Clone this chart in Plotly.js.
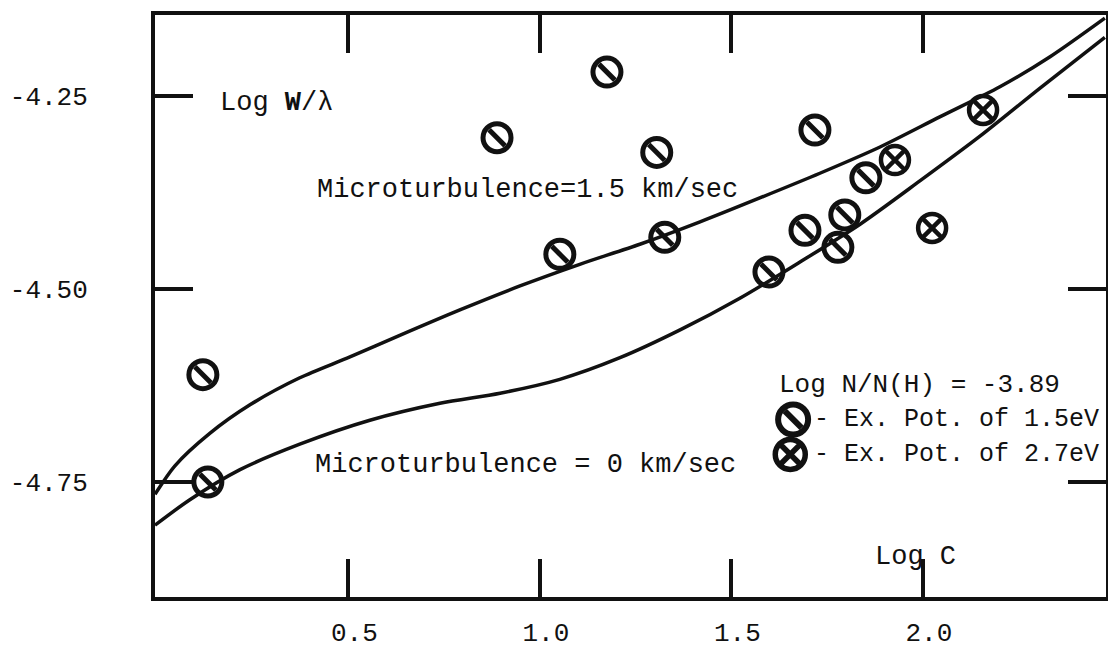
<!DOCTYPE html>
<html>
<head>
<meta charset="utf-8">
<script src="https://cdn.plot.ly/plotly-3.0.1.min.js"></script>
<style>
html,body{margin:0;padding:0;background:#fff;}
#chart{width:1108px;height:650px;}
</style>
</head>
<body>
<div id="chart"></div>
<script>
// Observed lines, excitation potential 1.5 eV (circle with slash)
const logC_ep15 = [0.120, 0.133, 0.888, 1.175, 1.052, 1.305, 1.326, 1.598, 1.692, 1.718, 1.778, 1.796, 1.851];
const logW_ep15 = [-4.611, -4.750, -4.304, -4.219, -4.455, -4.323, -4.433, -4.478, -4.424, -4.294, -4.446, -4.404, -4.356];
// Observed lines, excitation potential 2.7 eV (circle with x)
const logC_ep27 = [1.927, 2.024, 2.157];
const logW_ep27 = [-4.333, -4.421, -4.268];
// Curve of growth, microturbulence 1.5 km/sec
const curveC_v15 = [-0.005, 0.047, 0.138, 0.243, 0.373, 0.504, 0.634, 0.791, 0.948, 1.104, 1.261, 1.418, 1.574, 1.731, 1.888, 2.044, 2.201, 2.332, 2.475];
const curveW_v15 = [-4.766, -4.729, -4.687, -4.650, -4.615, -4.588, -4.560, -4.527, -4.496, -4.468, -4.442, -4.413, -4.382, -4.350, -4.316, -4.277, -4.238, -4.199, -4.149];
// Curve of growth, microturbulence 0 km/sec
const curveC_v0 = [-0.005, 0.086, 0.217, 0.373, 0.556, 0.739, 0.896, 1.052, 1.209, 1.366, 1.522, 1.679, 1.836, 1.992, 2.149, 2.305, 2.475];
const curveW_v0 = [-4.806, -4.773, -4.734, -4.701, -4.670, -4.648, -4.635, -4.617, -4.589, -4.553, -4.512, -4.465, -4.416, -4.360, -4.302, -4.240, -4.174];
// Axis ticks
const xTickVals = [0.5, 1.0, 1.5, 2.0];
const xTickText = ['0.5', '1.0', '1.5', '2.0'];
const yTickVals = [-4.25, -4.50, -4.75];
const yTickText = ['-4.25', '-4.50', '-4.75'];
// Key (legend) labels
const keyLabels = ['- Ex. Pot. of 1.5eV', '- Ex. Pot. of 2.7eV'];

const FONT = 'Liberation Mono, Courier New, monospace';
const INK = '#111';

// key glyph positions (paper fractions of plot area)
const keyX = [0.671, 0.668];
const keyY = [0.305, 0.245];

const ringSize = 28, lineSize = 16;

const traces = [
  {x: curveC_v15, y: curveW_v15, mode: 'lines', line: {color: INK, width: 3.5, shape: 'spline', smoothing: 0.8}, hoverinfo: 'skip'},
  {x: curveC_v0, y: curveW_v0, mode: 'lines', line: {color: INK, width: 3.5, shape: 'spline', smoothing: 0.8}, hoverinfo: 'skip'},
  {x: logC_ep15, y: logW_ep15, mode: 'markers', marker: {symbol: 'circle-open', size: ringSize, color: INK, line: {width: 5, color: INK}}},
  {x: logC_ep15, y: logW_ep15, mode: 'markers', marker: {symbol: 'line-nw', size: lineSize, color: INK, line: {width: 5, color: INK}}},
  {x: logC_ep27, y: logW_ep27, mode: 'markers', marker: {symbol: 'circle-x-open', size: ringSize, color: INK, line: {width: 4.5, color: INK}}},
  // key glyphs
  {x: [keyX[0]], y: [keyY[0]], xaxis: 'x2', yaxis: 'y2', mode: 'markers', marker: {symbol: 'circle-open', size: 30, color: INK, line: {width: 6, color: INK}}},
  {x: [keyX[0]], y: [keyY[0]], xaxis: 'x2', yaxis: 'y2', mode: 'markers', marker: {symbol: 'line-nw', size: 17, color: INK, line: {width: 6, color: INK}}},
  {x: [keyX[1]], y: [keyY[1]], xaxis: 'x2', yaxis: 'y2', mode: 'markers', marker: {symbol: 'circle-x-open', size: 30, color: INK, line: {width: 5.5, color: INK}}}
];
traces.forEach(t => { t.showlegend = false; t.cliponaxis = false; });

function ann(text, x, y, size) {
  return {text: text, x: x, y: y, xref: 'paper', yref: 'paper', xanchor: 'left', yanchor: 'middle',
          showarrow: false, font: {family: FONT, size: size || 27, color: INK}};
}

const layout = {
  width: 1108, height: 650,
  margin: {l: 155, r: 2, t: 15, b: 53},
  paper_bgcolor: '#fff', plot_bgcolor: '#fff',
  showlegend: false,
  xaxis: {
    range: [-0.005, 2.478], tickvals: xTickVals, ticktext: xTickText,
    ticks: 'inside', ticklen: 38, tickwidth: 4, tickcolor: INK,
    showline: true, linewidth: 4, linecolor: INK, mirror: 'ticks',
    showgrid: false, zeroline: false, ticklabelstandoff: 9, ticklabelshift: 6,
    tickfont: {family: FONT, size: 26, color: INK}
  },
  yaxis: {
    range: [-4.899, -4.145], tickvals: yTickVals, ticktext: yTickText,
    ticks: 'inside', ticklen: 38, tickwidth: 4, tickcolor: INK,
    showline: true, linewidth: 4, linecolor: INK, mirror: 'ticks',
    showgrid: false, zeroline: false, ticklabelstandoff: 58,
    tickfont: {family: FONT, size: 26, color: INK}
  },
  xaxis2: {overlaying: 'x', range: [0, 1], visible: false, anchor: 'y2'},
  yaxis2: {overlaying: 'y', range: [0, 1], visible: false, anchor: 'x2'},
  annotations: [
    ann('Log <b>W</b>/λ', 0.066, 0.849),
    ann('Microturbulence=1.5 km/sec', 0.168, 0.699),
    ann('Microturbulence = 0 km/sec', 0.166, 0.227),
    ann('Log C', 0.755, 0.069),
    ann('Log N/N(H) = -3.89', 0.654, 0.364, 26),
    ann(keyLabels[0], 0.691, keyY[0], 25),
    ann(keyLabels[1], 0.691, keyY[1], 25)
  ]
};

Plotly.newPlot('chart', traces, layout, {staticPlot: true, displayModeBar: false});
</script>
</body>
</html>
